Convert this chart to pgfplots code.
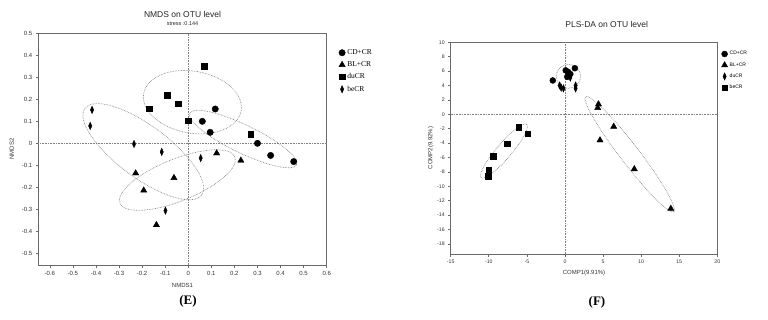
\documentclass[border=0pt]{standalone}
\usepackage{fontspec}
\setmainfont{Liberation Sans}
\newfontfamily\serif{Liberation Serif}
\usepackage{pgfplots}
\pgfplotsset{compat=1.18}

\definecolor{axgray}{HTML}{6A6A6A}
\definecolor{tickgray}{HTML}{333333}
\definecolor{ellgray}{HTML}{8C8C8C}

\tikzset{
  ell/.style={ellgray, line width=0.7pt, dash pattern=on 0.7pt off 0.9pt},
  orig/.style={gray, line width=0.7pt, dash pattern=on 0.7pt off 0.9pt},
}

\pgfplotsset{
 base/.style={
  scale only axis,
  anchor=south west,
  axis line style={axgray, line width=0.7pt},
  tick style={axgray, line width=0.6pt},
  major tick length=2.5pt,
  tick align=outside,
  tick pos=left,
  /pgf/number format/assume math mode=true,
  ticklabel style={text=tickgray},
  clip=false,
  legend style={draw=none, fill=none, inner sep=0pt, anchor=north west, cells={anchor=west}},
  legend image code/.code={\draw[#1] plot coordinates {(3pt,0pt)};},
 },
 mcirc/.style={only marks, mark=*, black, mark size=3.2pt},
 mtri/.style={only marks, mark=triangle*, black, mark size=3.6pt},
 msq/.style={only marks, mark=square*, black, mark size=2.7pt},
 mdia/.style={only marks, mark=diamond*, black, mark size=3.7pt, mark options={xscale=0.6}},
}

\begin{document}
\begin{tikzpicture}
\path[use as bounding box] (0,0) rectangle (768pt,319pt);

% ---------------- Left: NMDS ----------------
\begin{axis}[base,
  at={(38.3pt,54pt)},
  width=288.4pt, height=231.7pt,
  xmin=-0.65, xmax=0.6, ymin=-0.553, ymax=0.5,
  xtick={-0.6,-0.5,-0.4,-0.3,-0.2,-0.1,0,0.1,0.2,0.3,0.4,0.5,0.6},
  ytick={-0.5,-0.4,-0.3,-0.2,-0.1,0,0.1,0.2,0.3,0.4,0.5},
  /pgf/number format/.cd, fixed, precision=1, /pgfplots/.cd,
  ticklabel style={font=\fontsize{6}{7}\selectfont},
  legend style={at={(axis description cs:1,1)}, xshift=12pt, yshift=-14pt,
    font=\serif\fontsize{7.5}{9}\selectfont, row sep=1.6pt},
]
\addplot[mcirc] coordinates {(0.117,0.156) (0.061,0.10) (0.095,0.05) (0.30,0.0) (0.357,-0.055) (0.457,-0.083)};
\addplot[mtri] coordinates {(0.123,-0.045) (0.228,-0.078) (-0.062,-0.157) (-0.228,-0.136) (-0.193,-0.214) (-0.138,-0.371)};
\addplot[msq] coordinates {(0.069,0.351) (-0.091,0.218) (-0.044,0.18) (-0.17,0.156) (0.0,0.103) (0.271,0.041)};
\addplot[mdia] coordinates {(-0.417,0.152) (-0.425,0.079) (-0.235,-0.003) (-0.115,-0.039) (0.054,-0.067) (-0.099,-0.306)};
\legend{CD+CR, BL+CR, duCR, beCR}
\addplot[orig, forget plot] coordinates {(0,-0.553) (0,0.5)};
\addplot[orig, forget plot] coordinates {(-0.65,0) (0.6,0)};
\draw[ell, rotate around={-10:(axis cs:0.018,0.187)}] (axis cs:0.018,0.187) ellipse [x radius=49.5pt, y radius=31pt];
\draw[ell, rotate around={-25.8:(axis cs:0.238,0.0195)}] (axis cs:0.238,0.0195) ellipse [x radius=59.3pt, y radius=14pt];
\draw[ell, rotate around={-36.6:(axis cs:-0.195,-0.038)}] (axis cs:-0.195,-0.038) ellipse [x radius=72.7pt, y radius=26pt];
\draw[ell, rotate around={22:(axis cs:-0.047,-0.167)}] (axis cs:-0.047,-0.167) ellipse [x radius=62pt, y radius=21pt];
\node[font=\fontsize{8.5}{10}\selectfont, text=black!85, yshift=19.3pt] at (axis description cs:0.5,1) {NMDS on OTU level};
\node[font=\fontsize{5.5}{6.5}\selectfont, text=black!85, yshift=9.3pt] at (axis description cs:0.5,1) {stress :0.144};
\node[font=\fontsize{6}{7}\selectfont, text=tickgray, yshift=-20pt] at (axis description cs:0.5,0) {NMDS1};
\node[font=\fontsize{6}{7}\selectfont, text=tickgray, xshift=-26.6pt, rotate=90] at (axis description cs:0,0.5) {NMDS2};
\end{axis}

% ---------------- Right: PLS-DA ----------------
\begin{axis}[base,
  at={(450.7pt,65pt)},
  width=266.6pt, height=211.7pt,
  xmin=-15, xmax=20, ymin=-19.4, ymax=10,
  xtick={-15,-10,-5,0,5,10,15,20},
  ytick={-18,-16,-14,-12,-10,-8,-6,-4,-2,0,2,4,6,8,10},
  ticklabel style={font=\fontsize{5.2}{6}\selectfont},
  legend style={at={(axis description cs:1,1)}, xshift=4pt, yshift=-7pt,
    font=\fontsize{5}{6}\selectfont, row sep=2.2pt},
]
\addplot[mcirc, mark size=3pt] coordinates {(-1.6,4.7) (0.1,6.1) (0.4,5.9) (1.3,6.4) (0.7,5.6) (0.3,5.2)};
\addplot[mtri] coordinates {(4.4,1.4) (4.3,0.9) (6.4,-1.7) (4.6,-3.6) (9.1,-7.6) (13.9,-13.1)};
\addplot[mdia] coordinates {(-0.7,4.0) (-0.5,3.7) (-0.2,3.6) (0.7,5.1) (1.4,4.0) (1.4,3.6)};
\addplot[msq] coordinates {(-6.1,-1.8) (-4.9,-2.7) (-7.6,-4.1) (-9.4,-5.8) (-10.0,-7.7) (-10.1,-8.6)};
\legend{CD+CR, BL+CR, duCR, beCR}
\addplot[orig, forget plot] coordinates {(0,-19.4) (0,10)};
\addplot[orig, forget plot] coordinates {(-15,0) (20,0)};
\draw[ell] (axis cs:0.46,5.28) ellipse [x radius=12.2pt, y radius=12pt];
\draw[ell, rotate around={49.4:(axis cs:-8.0,-5.1)}] (axis cs:-8.0,-5.1) ellipse [x radius=35pt, y radius=7.5pt];
\draw[ell, rotate around={-52.5:(axis cs:8.5,-5.54)}] (axis cs:8.5,-5.54) ellipse [x radius=72.5pt, y radius=9.5pt];
\node[font=\fontsize{8.5}{10}\selectfont, text=black!85] at (606.7pt-450.7pt+0pt,0pt) {};
\node[font=\fontsize{8.5}{10}\selectfont, text=black!85, yshift=18.3pt, xshift=22.7pt] at (axis description cs:0.5,1) {PLS-DA on OTU level};
\node[font=\fontsize{6}{7}\selectfont, text=tickgray, yshift=-19.3pt] at (axis description cs:0.5,0) {COMP1(9.91\%)};
\node[font=\fontsize{6}{7}\selectfont, text=tickgray, xshift=-20pt, rotate=90] at (axis description cs:0,0.5) {COMP2(9.92\%)};
\end{axis}

\node[font=\serif\bfseries\fontsize{13}{15}\selectfont] at (188pt,18pt) {(E)};
\node[font=\serif\bfseries\fontsize{13}{15}\selectfont] at (597pt,17pt) {(F)};
\end{tikzpicture}
\end{document}
